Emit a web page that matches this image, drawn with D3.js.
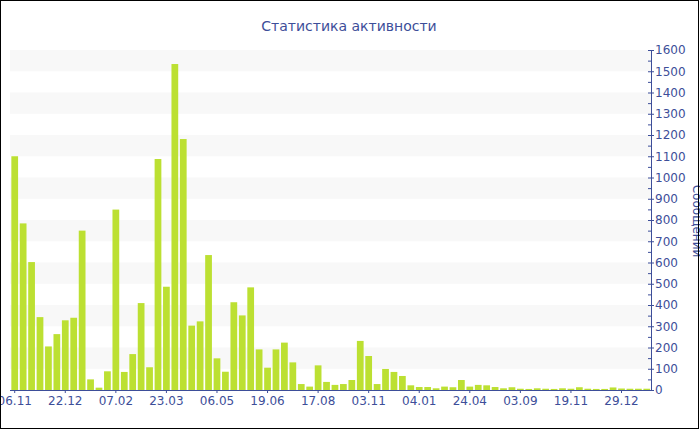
<!DOCTYPE html>
<html>
<head>
<meta charset="utf-8">
<script src="https://cdn.jsdelivr.net/npm/d3@7"></script>
<style>
  body { margin: 0; background: #fff; }
  svg { display: block; font-family: "DejaVu Sans", Verdana, sans-serif; }
</style>
</head>
<body>
<script>
//data: messages per week
const values = [
  1100, 784, 602, 343, 205, 263, 328, 340, 750, 50,
  11, 88, 849, 85, 169, 409, 107, 1087, 486, 1534,
  1181, 303, 323, 635, 149, 86, 413, 351, 483, 191,
  105, 191, 223, 130, 28, 16, 116, 38, 24, 28,
  47, 231, 160, 28, 99, 85, 66, 22, 14, 14,
  8, 16, 13, 47, 16, 24, 22, 14, 8, 13,
  6, 5, 8, 6, 5, 8, 6, 13, 6, 5,
  5, 12, 7, 6, 6, 6
];
//bar index of each labelled tick
const tickIndex = [0, 6, 12, 18, 24, 30, 36, 42, 48, 54, 60, 66, 72];
const tickLabels = ["06.11", "22.12", "07.02", "23.03", "06.05", "19.06", "17.08",
  "03.11", "04.01", "24.04", "03.09", "19.11", "29.12"];
const yTicks = d3.range(0, 1601, 100);
const weeks = values.map((v, i) => i);

const W = 700, H = 430;
const plot = { left: 10.5, right: 651, top: 50, bottom: 390 };
const textColor = "#3d4e99";

const svg = d3
  .select("body")
  .append("svg")
  .attr("width", W)
  .attr("height", H);

//scales
const x = d3.scaleBand().domain(weeks).range([plot.left, plot.right]).paddingInner(0.2).paddingOuter(0.1);
const y = d3.scaleLinear().domain([0, 1600]).range([plot.bottom, plot.top]);

//striped background
svg
  .append("g")
  .selectAll("rect")
  .data(yTicks.slice(0, -1).filter((d, i) => i % 2 == 1))
  .enter()
  .append("rect")
  .attr("x", 10)
  .attr("width", plot.right - 10)
  .attr("y", (d) => y(d + 100))
  .attr("height", (d) => y(d) - y(d + 100))
  .attr("fill", "#f8f8f8");

//bars
svg
  .append("g")
  .selectAll("rect")
  .data(values)
  .enter()
  .append("rect")
  .attr("x", (d, i) => x(i))
  .attr("width", x.bandwidth())
  .attr("y", (d) => y(d))
  .attr("height", (d) => y(0) - y(d))
  .attr("fill", "#bce032");

//x axis
const xAxis = svg
  .append("g")
  .attr("transform", `translate(0, ${plot.bottom})`)
  .call(
    d3.axisBottom(x)
      .tickValues(tickIndex)
      .tickFormat((d) => tickLabels[tickIndex.indexOf(d)])
      .tickSize(3)
      .tickSizeOuter(0)
      .tickPadding(3)
  );
xAxis.select(".domain").attr("d", `M10,0.5H${plot.right}`);

//y axis on the right
const yAxis = svg
  .append("g")
  .attr("transform", `translate(${plot.right}, 0)`)
  .call(
    d3.axisRight(y)
      .tickValues(yTicks)
      .tickFormat(d3.format("d"))
      .tickSize(3)
      .tickSizeOuter(0)
      .tickPadding(1)
  );
yAxis.selectAll(".tick line").attr("x1", -3);
//minor ticks
yAxis
  .selectAll(".minor")
  .data(yTicks.slice(0, -1).map((d) => d + 50))
  .enter()
  .append("line")
  .attr("class", "minor")
  .attr("x1", -3)
  .attr("x2", 0)
  .attr("y1", (d) => y(d) + 0.5)
  .attr("y2", (d) => y(d) + 0.5);

svg.selectAll(".tick text").attr("fill", textColor).style("font-size", "12px").style("font-family", "DejaVu Sans");
svg.selectAll(".domain, .tick line, .minor").attr("stroke", textColor);

//title
svg
  .append("text")
  .attr("x", 349)
  .attr("y", 31)
  .attr("text-anchor", "middle")
  .attr("fill", textColor)
  .style("font-size", "14px")
  .text("Статистика активности");

//y axis title
svg
  .append("text")
  .attr("transform", "translate(693, 221) rotate(90)")
  .attr("text-anchor", "middle")
  .attr("fill", textColor)
  .style("font-size", "12px")
  .text("Сообщений");

//border
svg
  .append("rect")
  .attr("x", 0.5)
  .attr("y", 0.5)
  .attr("width", W - 2)
  .attr("height", H - 2)
  .attr("fill", "none")
  .attr("stroke", "#000");
</script>
</body>
</html>
